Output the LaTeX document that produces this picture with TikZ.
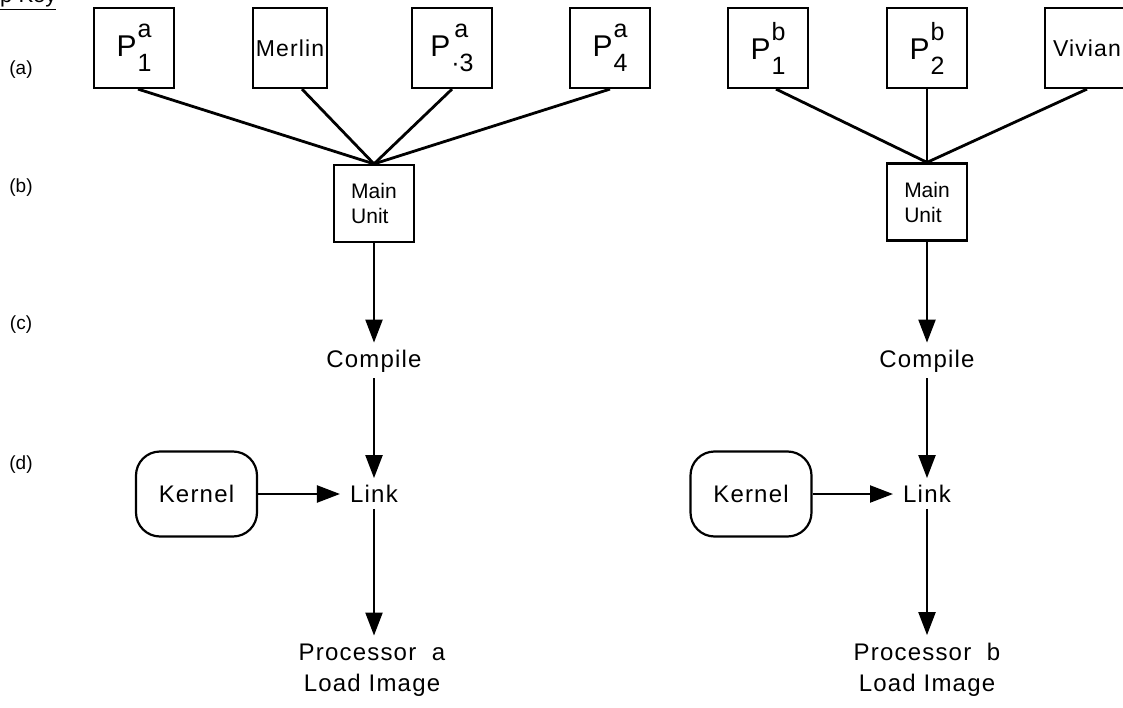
\documentclass[tikz,border=0pt]{standalone}
\usepackage{fontspec}
\setmainfont{Liberation Sans}
\newfontfamily\spaced[LetterSpace=5]{Liberation Sans}
\usetikzlibrary{arrows.meta,calc}
\newcommand\psym[3][0pt]{{\fontsize{30}{30}\selectfont P}\kern1pt{\fontsize{25}{25}\selectfont\rlap{\raisebox{19pt}{\kern#1#2}}\raisebox{-15pt}{#3}}}
\begin{document}
\begin{tikzpicture}[x=1pt,y=-1pt,
  pbox/.style={draw,line width=2.2pt,minimum width=80pt,minimum height=80pt,inner sep=0pt},
  wbox/.style={pbox,font=\spaced\fontsize{23}{23}\selectfont},
  mbox/.style={draw,line width=2.2pt,minimum width=80pt,minimum height=77pt,inner sep=0pt,align=left,font=\fontsize{21}{25}\selectfont},
  lbl/.style={font=\spaced\fontsize{24}{31}\selectfont,inner sep=0pt},
  kbox/.style={draw,line width=2.2pt,rounded corners=24pt,minimum width=121pt,minimum height=85pt,inner sep=0pt,font=\spaced\fontsize{24}{26}\selectfont},
  feed/.style={line width=2.8pt},
  flow/.style={line width=2.2pt,-{Triangle[length=23pt,width=17pt]}},
  rowlbl/.style={font=\fontsize{19}{22}\selectfont,inner sep=0pt}
]
\useasboundingbox (0,0) rectangle (1123,708);
\clip (0,0) rectangle (1123,708);
% key
\node[anchor=base west,inner sep=0pt,font=\fontsize{22}{22}\selectfont] (key) at (0,3) {\underline{p Key}};
% row labels
\node[rowlbl] (la) at (21,70) {(a)};
\node[rowlbl] (lb) at (21,188) {(b)};
\node[rowlbl] (lc) at (21,325) {(c)};
\node[rowlbl] (ld) at (21,465) {(d)};
% top boxes, group a
\node[pbox] (p1a) at (134,48) {\psym{a}{1}};
\node[wbox,minimum width=74pt] (merlin) at (290,48) {Merlin};
\node[pbox] (p3a) at (452,48) {\psym[3pt]{a}{·3}};
\node[pbox] (p4a) at (610,48) {\psym{a}{4}};
% top boxes, group b
\node[pbox] (p1b) at (768,48) {\psym{b}{1}};
\node[pbox] (p2b) at (927,48) {\psym{b}{2}};
\node[wbox,minimum width=84pt] (vivian) at (1087,48) {Vivian};
% main units
\node[mbox] (mua) at (374,203.5) {Main\\Unit};
\node[mbox] (mub) at (927,202) {Main\\Unit};
% flow labels
\node[lbl] (compa) at (374,361) {Compile};
\node[lbl] (compb) at (927,361) {Compile};
\node[lbl] (linka) at (374,494) {Link};
\node[lbl] (linkb) at (927,494) {Link};
\node[kbox] (kera) at (196.5,494) {Kernel};
\node[kbox] (kerb) at (751,494) {Kernel};
\node[lbl,align=center] (proca) at (372,670) {Processor\ \ a\\Load Image};
\node[lbl,align=center] (procb) at (927,670) {Processor\ \ b\\Load Image};
% feeds
\draw[feed] ($(p1a.south)+(4,0)$) -- (mua.north);
\draw[feed] ($(merlin.south)+(12,0)$) -- (mua.north);
\draw[feed] (p3a.south) -- (mua.north);
\draw[feed] (p4a.south) -- (mua.north);
\draw[feed] ($(p1b.south)+(8,0)$) -- (mub.north);
\draw[line width=1.8pt] (p2b.south) -- (mub.north);
\draw[feed] (vivian.south) -- (mub.north);
% flows
\draw[flow,shorten >=7pt] (mua.south) -- (compa.north);
\draw[flow,shorten <=6pt,shorten >=7pt] (compa.south) -- (linka.north);
\draw[flow,shorten <=6pt,shorten >=8pt] (linka.south) -- (proca.north -| linka.south);
\draw[flow,shorten >=10pt] (kera.east) -- (linka.west);
\draw[flow,shorten >=7pt] (mub.south) -- (compb.north);
\draw[flow,shorten <=6pt,shorten >=7pt] (compb.south) -- (linkb.north);
\draw[flow,shorten <=6pt,shorten >=8pt] (linkb.south) -- (procb.north -| linkb.south);
\draw[flow,shorten >=10pt] (kerb.east) -- (linkb.west);
\end{tikzpicture}
\end{document}
